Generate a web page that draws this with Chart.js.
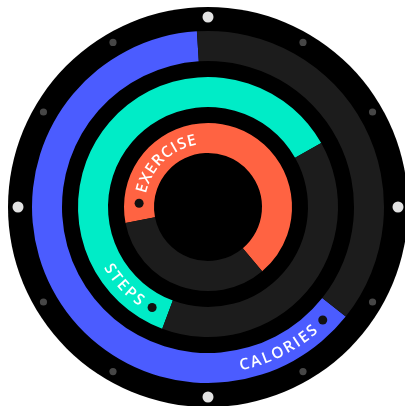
<!DOCTYPE html>
<html>
<head>
<meta charset="utf-8">
<script src="https://cdn.jsdelivr.net/npm/chart.js@4.4.1/dist/chart.umd.min.js"></script>
<style>
  html, body { margin: 0; padding: 0; background: #fff; }
  #wrap { position: relative; width: 405px; height: 406px; overflow: hidden; }
  #wrap canvas { position: absolute; left: 0; top: 0; }
</style>
</head>
<body>
<div id="wrap">
  <canvas id="ringCalories" width="405" height="406"></canvas>
  <canvas id="ringSteps" width="405" height="406"></canvas>
  <canvas id="ringExercise" width="405" height="406"></canvas>
</div>
<script>
// ring data: percent done and where each ring starts (degrees clockwise from 12 o'clock)
const labels = ['CALORIES', 'STEPS', 'EXERCISE'];
const progress = [63.3, 61.1, 66.9];
const startAngles = [128.5, 200.6, 259];

const trackColor = '#1c1c1c';
const rings = [
  { id: 'ringCalories', color: '#4b5cff', outer: 176, inner: 146, dir: -1 },
  { id: 'ringSteps',    color: '#00ecc7', outer: 130, inner: 100, dir: -1 },
  { id: 'ringExercise', color: '#ff6342', outer: 84,  inner: 54,  dir: 1 }
];
const padding = { left: 32, top: 31, right: 21, bottom: 23 };
const labelFont = '600 15.5px "Open Sans"';
const letterGap = 1.8;

// black watch face with hour dots, drawn under the outer ring
const facePlugin = {
  id: 'face',
  beforeDraw(chart) {
    const ctx = chart.ctx;
    const a = chart.chartArea;
    const cx = (a.left + a.right) / 2, cy = (a.top + a.bottom) / 2;
    ctx.save();
    ctx.fillStyle = '#000';
    ctx.beginPath();
    ctx.arc(cx, cy, 200, 0, Math.PI * 2);
    ctx.fill();
    for (let h = 0; h < 12; h++) {
      const ang = h * Math.PI / 6 - Math.PI / 2;
      const big = h % 3 === 0;
      ctx.fillStyle = big ? '#e2e2e2' : '#464646';
      ctx.beginPath();
      ctx.arc(cx + Math.cos(ang) * 190, cy + Math.sin(ang) * 190, big ? 5.5 : 3.6, 0, Math.PI * 2);
      ctx.fill();
    }
    ctx.restore();
  }
};

// curved label and the little dot at the start of each ring
const labelPlugin = {
  id: 'ringLabel',
  afterDatasetsDraw(chart) {
    const i = chart.options.plugins.ringLabel.index;
    const dir = rings[i].dir;
    const arc = chart.getDatasetMeta(0).data[0];
    const p = arc.getProps(['x', 'y', 'startAngle', 'innerRadius', 'outerRadius'], true);
    const r = (p.innerRadius + p.outerRadius) / 2;
    const ctx = chart.ctx;
    const dotAng = p.startAngle + 17 / r;

    ctx.save();
    ctx.fillStyle = '#111';
    ctx.beginPath();
    ctx.arc(p.x + Math.cos(dotAng) * r, p.y + Math.sin(dotAng) * r, 4.5, 0, Math.PI * 2);
    ctx.fill();

    ctx.font = labelFont;
    ctx.fillStyle = '#fff';
    ctx.textAlign = 'center';
    ctx.textBaseline = 'alphabetic';
    const text = labels[i];
    const widths = text.split('').map(ch => ctx.measureText(ch).width);
    const total = widths.reduce((s, w) => s + w, 0) + letterGap * (text.length - 1);
    const near = dotAng + 11 / r;
    // dir 1: reads clockwise, tops outward; dir -1: reads anticlockwise, tops inward
    let pos = dir === 1 ? near : near + total / r;
    for (let k = 0; k < text.length; k++) {
      const w = widths[k];
      const c = pos + dir * (w / 2) / r;
      ctx.save();
      ctx.translate(p.x, p.y);
      if (dir === 1) {
        ctx.rotate(c + Math.PI / 2);
        ctx.fillText(text[k], 0, -r + 5.5);
      } else {
        ctx.rotate(c - Math.PI / 2);
        ctx.fillText(text[k], 0, r + 5.5);
      }
      ctx.restore();
      pos += dir * (w + letterGap) / r;
    }
    ctx.restore();
  }
};

rings.forEach(function(s, i) {
  new Chart(document.getElementById(s.id), {
    type: 'doughnut',
    data: {
      labels: [labels[i], ''],
      datasets: [{
        data: [progress[i], 100 - progress[i]],
        backgroundColor: [s.color, trackColor],
        borderWidth: 0,
        rotation: startAngles[i]
      }]
    },
    options: {
      responsive: false,
      animation: false,
      events: [],
      radius: s.outer,
      cutout: (s.inner / s.outer * 100) + '%',
      layout: { padding: padding },
      plugins: {
        legend: { display: false },
        tooltip: { enabled: false },
        ringLabel: { index: i }
      }
    },
    plugins: i === 0 ? [facePlugin, labelPlugin] : [labelPlugin]
  });
});
</script>
</body>
</html>
